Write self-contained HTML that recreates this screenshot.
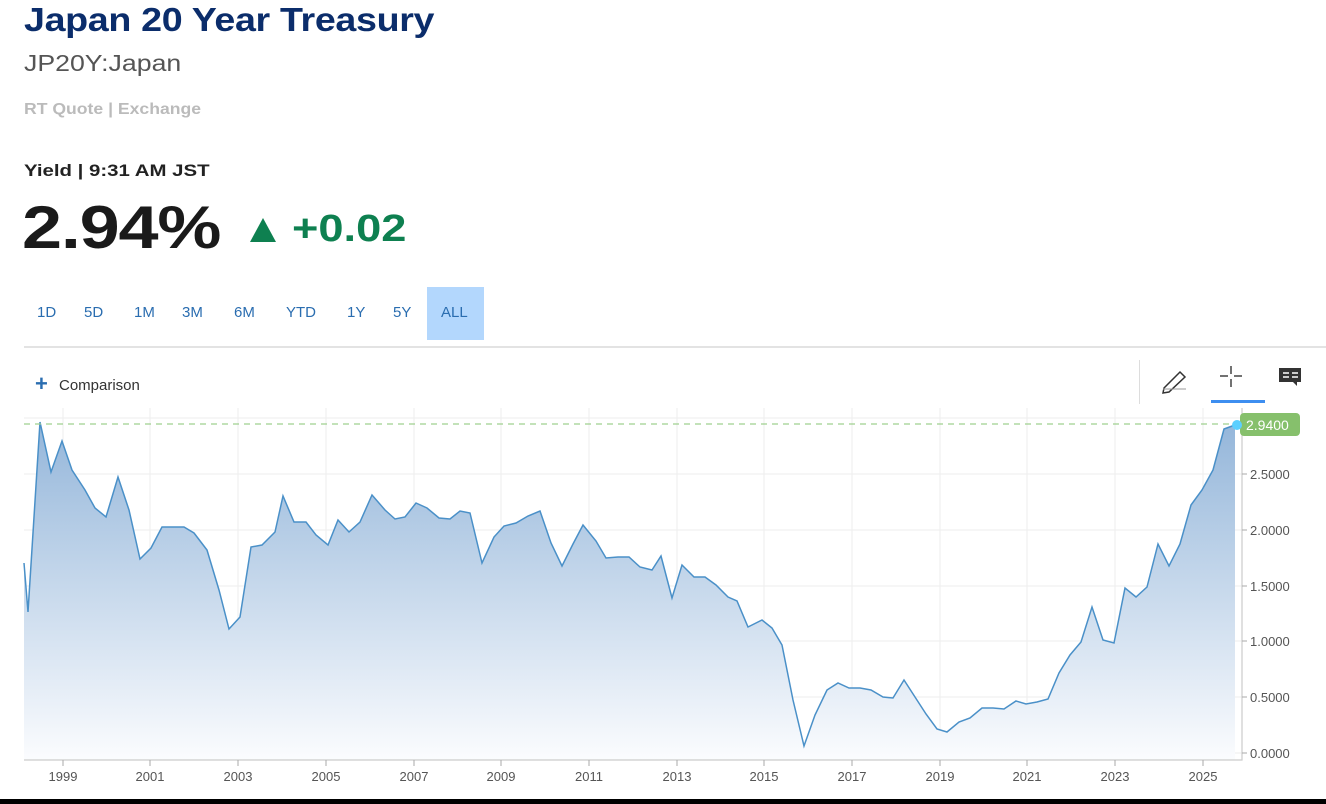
<!DOCTYPE html>
<html><head><meta charset="utf-8"><style>
body{margin:0;width:1326px;height:804px;background:#fff;overflow:hidden;position:relative;font-family:"Liberation Sans",sans-serif}
.a{position:absolute;white-space:nowrap;transform-origin:0 0}
</style></head><body>
<div class="a" style="left:24px;top:1px;font-size:33px;font-weight:bold;color:#0b2d6b;letter-spacing:-0.3px;transform:scaleX(1.14)">Japan 20 Year Treasury</div>
<div class="a" style="left:24px;top:50px;font-size:23px;color:#555;transform:scaleX(1.16)">JP20Y:Japan</div>
<div class="a" style="left:24px;top:101px;font-size:16px;font-weight:bold;color:#bbb;transform:scaleX(1.1)">RT Quote | Exchange</div>
<div class="a" style="left:24px;top:161px;font-size:17px;font-weight:bold;color:#222;transform:scaleX(1.2)">Yield | 9:31 AM JST</div>
<div class="a" style="left:22px;top:193px;font-size:60px;font-weight:bold;color:#1a1a1a;letter-spacing:-1px;transform:scaleX(1.2)">2.94%</div>
<div class="a" style="left:250px;top:218px;width:0;height:0;border-left:13px solid transparent;border-right:13px solid transparent;border-bottom:24px solid #0e8050"></div>
<div class="a" style="left:292px;top:208px;font-size:38px;font-weight:bold;color:#0e8050;transform:scaleX(1.19)">+0.02</div>
<div class="a" style="left:427px;top:287px;width:57px;height:53px;background:#b3d7fd"></div>
<div class="a" style="top:304px;left:0;font-size:15px;color:#2a6db0">
<span class="a" style="left:37px">1D</span><span class="a" style="left:84px">5D</span><span class="a" style="left:134px">1M</span><span class="a" style="left:182px">3M</span><span class="a" style="left:234px">6M</span><span class="a" style="left:286px">YTD</span><span class="a" style="left:347px">1Y</span><span class="a" style="left:393px">5Y</span><span class="a" style="left:441px">ALL</span></div>
<div class="a" style="left:24px;top:346px;width:1302px;height:2px;background:#e3e3e3"></div>
<div class="a" style="left:35px;top:371px;font-size:22px;color:#2a6db0;font-weight:bold">+</div>
<div class="a" style="left:59px;top:377px;font-size:15px;color:#333">Comparison</div>
<div class="a" style="left:1139px;top:360px;width:1px;height:44px;background:#ddd"></div>
<svg class="a" style="left:0;top:0" width="1326" height="804">
<g stroke="#333" fill="none" stroke-width="1.5"><path d="M1164 388 L1180 372 L1185 377 L1169 392 L1163 393 Z"/><path d="M1163 389 L1186 389" stroke="#999" stroke-width="1"/></g>
<g stroke="#444" stroke-width="1.5"><path d="M1231 366v8M1231 379v8M1220 376h8M1234 376h8"/></g>
<path d="M1279 368h22v14h-4v4l-4-4h-14z" fill="#333"/><g stroke="#fff" stroke-width="1.5"><path d="M1283 373h6M1283 377h6M1292 373h6M1292 377h6"/></g>
<rect x="1211" y="400" width="54" height="3" fill="#3d8ef0"/>
<defs><linearGradient id="g" x1="0" y1="0" x2="0" y2="1"><stop offset="0" stop-color="#94b6da"/><stop offset="1" stop-color="#fbfcfe"/></linearGradient></defs>
<g stroke="#eee" stroke-width="1">
<path d="M24 753H1242M24 697H1242M24 641H1242M24 586H1242M24 530H1242M24 474H1242M24 418H1242"/>
<path d="M63 408V760M150 408V760M238 408V760M326 408V760M414 408V760M501 408V760M589 408V760M677 408V760M764 408V760M852 408V760M940 408V760M1027 408V760M1115 408V760M1203 408V760"/>
</g>
<path id="p" d="M24,563 L28,612 L40,422 L51,472 L62,441 L72,470 L85,490 L95,508 L106,517 L118,477 L129,510 L140,559 L151,548 L162,527 L184,527 L194,533 L207,550 L219,590 L229,629 L240,617 L251,547 L262,545 L275,532 L283,496 L294,522 L306,522 L316,535 L328,545 L338,520 L349,532 L360,522 L372,495 L385,510 L395,519 L405,517 L416,503 L427,508 L439,518 L450,519 L460,511 L470,513 L482,563 L494,537 L504,526 L516,523 L528,516 L540,511 L551,543 L562,566 L573,544 L583,525 L596,541 L606,558 L618,557 L629,557 L640,567 L652,570 L661,556 L672,598 L682,565 L694,577 L705,577 L716,585 L728,597 L737,601 L748,627 L762,620 L772,628 L782,645 L793,700 L804,746 L815,715 L827,690 L838,683 L849,688 L860,688 L871,690 L883,697 L893,698 L904,680 L915,697 L926,714 L937,729 L947,732 L959,722 L970,718 L982,708 L993,708 L1004,709 L1016,701 L1026,704 L1037,702 L1048,699 L1059,673 L1070,655 L1081,642 L1092,607 L1103,640 L1114,643 L1125,588 L1136,597 L1147,587 L1158,544 L1169,566 L1180,544 L1191,505 L1202,490 L1213,470 L1224,429 L1235,425" fill="none"/>
<path d="M24,760 L24,563 L28,612 L40,422 L51,472 L62,441 L72,470 L85,490 L95,508 L106,517 L118,477 L129,510 L140,559 L151,548 L162,527 L184,527 L194,533 L207,550 L219,590 L229,629 L240,617 L251,547 L262,545 L275,532 L283,496 L294,522 L306,522 L316,535 L328,545 L338,520 L349,532 L360,522 L372,495 L385,510 L395,519 L405,517 L416,503 L427,508 L439,518 L450,519 L460,511 L470,513 L482,563 L494,537 L504,526 L516,523 L528,516 L540,511 L551,543 L562,566 L573,544 L583,525 L596,541 L606,558 L618,557 L629,557 L640,567 L652,570 L661,556 L672,598 L682,565 L694,577 L705,577 L716,585 L728,597 L737,601 L748,627 L762,620 L772,628 L782,645 L793,700 L804,746 L815,715 L827,690 L838,683 L849,688 L860,688 L871,690 L883,697 L893,698 L904,680 L915,697 L926,714 L937,729 L947,732 L959,722 L970,718 L982,708 L993,708 L1004,709 L1016,701 L1026,704 L1037,702 L1048,699 L1059,673 L1070,655 L1081,642 L1092,607 L1103,640 L1114,643 L1125,588 L1136,597 L1147,587 L1158,544 L1169,566 L1180,544 L1191,505 L1202,490 L1213,470 L1224,429 L1235,425 L1235,760 Z" fill="url(#g)"/>
<use href="#p" stroke="#4a90c8" stroke-width="1.5"/>
<path d="M24 424H1236" stroke="#9fd08f" stroke-width="1.2" stroke-dasharray="6,5"/>
<path d="M24 760H1242V408" stroke="#ccc" stroke-width="1.2" fill="none"/>
<g stroke="#aaa"><path d="M63 760v6M150 760v6M238 760v6M326 760v6M414 760v6M501 760v6M589 760v6M677 760v6M764 760v6M852 760v6M940 760v6M1027 760v6M1115 760v6M1203 760v6M1242 753h5M1242 697h5M1242 641h5M1242 586h5M1242 530h5M1242 474h5"/></g>
<g font-size="13" fill="#555" font-family="Liberation Sans,sans-serif">
<g text-anchor="middle"><text x="63" y="781">1999</text><text x="150" y="781">2001</text><text x="238" y="781">2003</text><text x="326" y="781">2005</text><text x="414" y="781">2007</text><text x="501" y="781">2009</text><text x="589" y="781">2011</text><text x="677" y="781">2013</text><text x="764" y="781">2015</text><text x="852" y="781">2017</text><text x="940" y="781">2019</text><text x="1027" y="781">2021</text><text x="1115" y="781">2023</text><text x="1203" y="781">2025</text></g>
<text x="1250" y="758">0.0000</text><text x="1250" y="702">0.5000</text><text x="1250" y="646">1.0000</text><text x="1250" y="591">1.5000</text><text x="1250" y="535">2.0000</text><text x="1250" y="479">2.5000</text>
</g>
<rect x="1240" y="413" width="60" height="23" rx="4" fill="#86c06c"/>
<text x="1246" y="430" font-size="14" fill="#fff" font-family="Liberation Sans,sans-serif">2.9400</text>
<circle cx="1237" cy="425" r="5" fill="#5ccfff"/>
<rect x="0" y="799" width="1326" height="5" fill="#000"/>
</svg>
</body></html>
